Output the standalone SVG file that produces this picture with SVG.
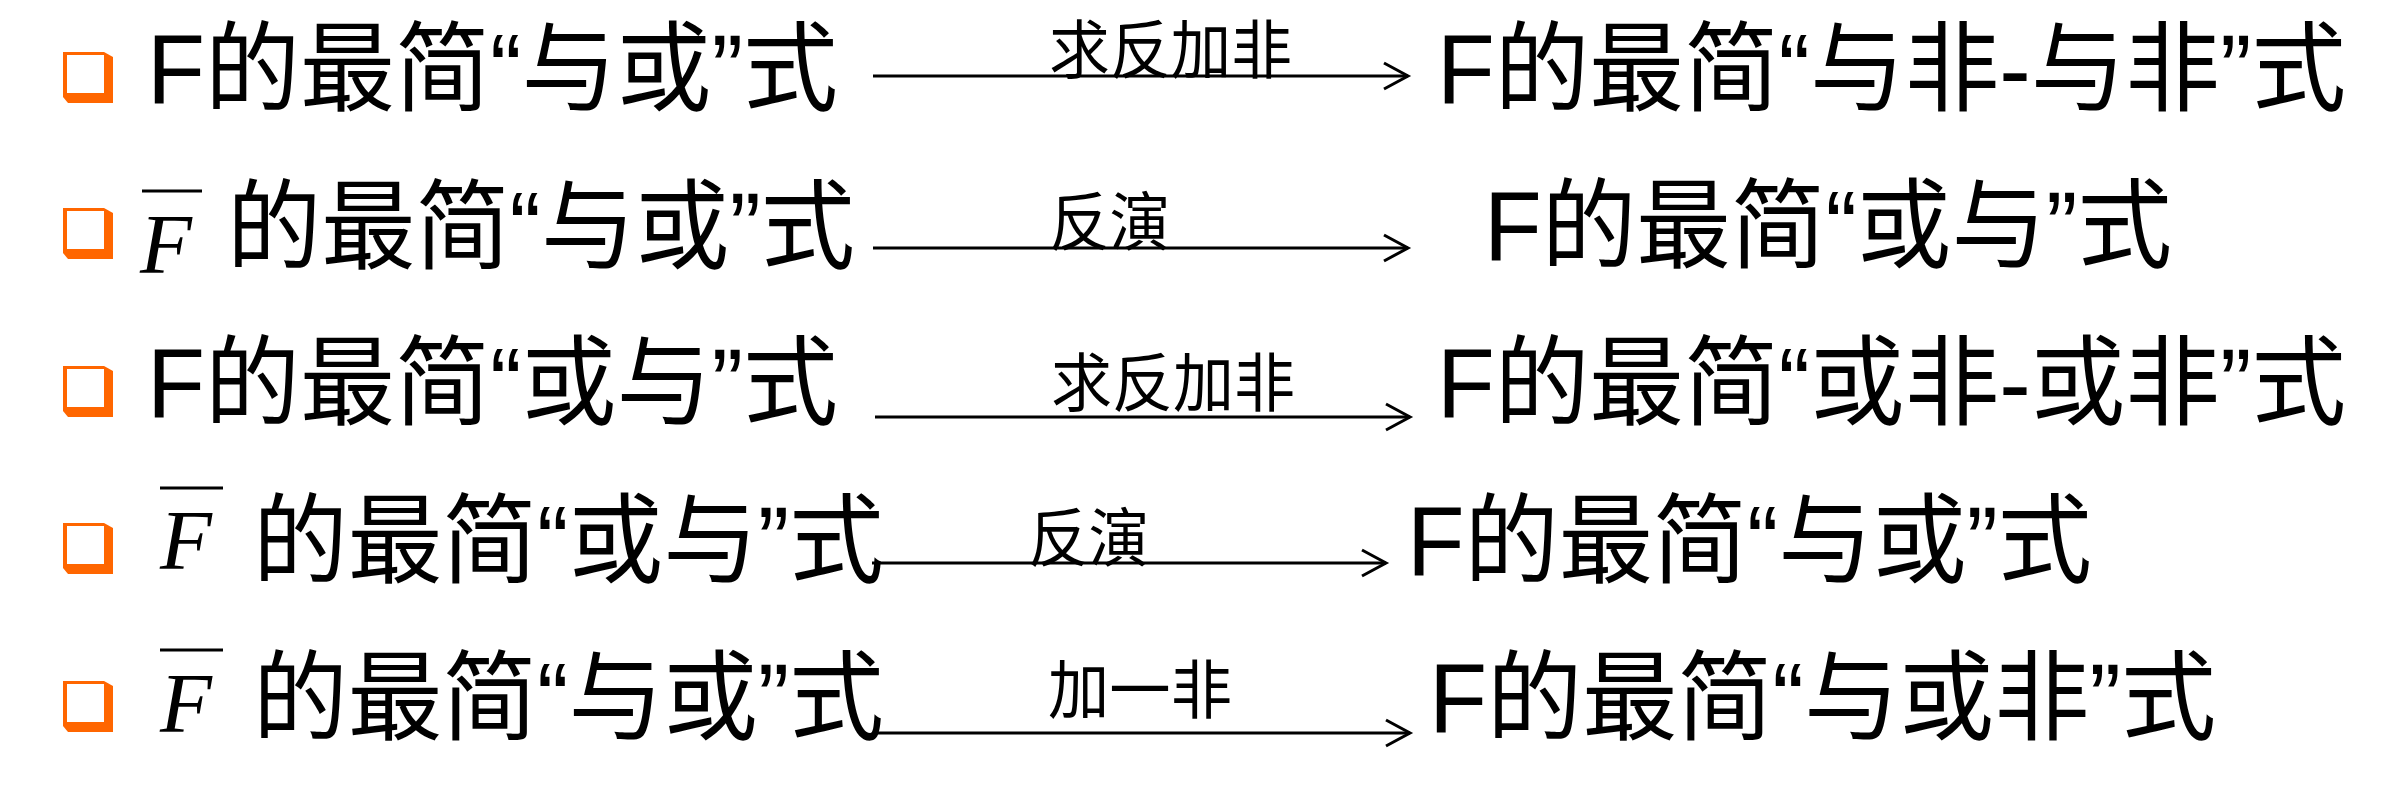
<svg xmlns="http://www.w3.org/2000/svg" width="2403" height="787" viewBox="0 0 2403 787">
<style>
.t{font-family:"Liberation Sans","Noto Sans CJK SC",sans-serif;font-size:98px;fill:#000}
.lb{font-family:"Noto Sans CJK SC",sans-serif;font-size:64px;fill:#000}
.fi{font-family:"Liberation Serif",serif;font-style:italic;font-size:85px;fill:#000}
.ob{stroke:#000;stroke-width:3}
.ar{stroke:#000;stroke-width:3;fill:none}
</style>
<defs>
<marker id="arr" markerUnits="userSpaceOnUse" markerWidth="32" markerHeight="32" refX="27" refY="15" orient="auto" overflow="visible">
<path d="M3,2 L27,15 L3,28" fill="none" stroke="#000" stroke-width="3"/>
</marker>
<g id="bul">
<polygon points="0,0 41,0 50,5 50,51 5,51 0,45" fill="#FF6600"/>
<rect x="4" y="3" width="37" height="38" fill="#fff"/>
</g>
</defs>
<rect width="2403" height="787" fill="#fff"/>

<g id="bullets">
<use href="#bul" x="63" y="52"/>
<use href="#bul" x="63" y="208"/>
<use href="#bul" x="63" y="366"/>
<use href="#bul" x="63" y="523"/>
<use href="#bul" x="63" y="681"/>
</g>

<g id="row1-left"><text class="t" x="147" y="103" textLength="691" lengthAdjust="spacingAndGlyphs">F的最简“与或”式</text></g>
<g id="row1-right"><text class="t" x="1437" y="103" textLength="909" lengthAdjust="spacingAndGlyphs">F的最简“与非-与非”式</text></g>

<g id="row2-left">
<line class="ob" x1="142" y1="191" x2="202" y2="191"/>
<text class="fi" x="140" y="273">F</text>
<text class="t" x="227" y="261" textLength="628" lengthAdjust="spacingAndGlyphs">的最简“与或”式</text>
</g>
<g id="row2-right"><text class="t" x="1484" y="260" textLength="688" lengthAdjust="spacingAndGlyphs">F的最简“或与”式</text></g>

<g id="row3-left"><text class="t" x="147" y="417" textLength="691" lengthAdjust="spacingAndGlyphs">F的最简“或与”式</text></g>
<g id="row3-right"><text class="t" x="1437" y="417" textLength="909" lengthAdjust="spacingAndGlyphs">F的最简“或非-或非”式</text></g>

<g id="row4-left">
<line class="ob" x1="160" y1="488" x2="223" y2="488"/>
<text class="fi" x="160" y="569">F</text>
<text class="t" x="253" y="575" textLength="631" lengthAdjust="spacingAndGlyphs">的最简“或与”式</text>
</g>
<g id="row4-right"><text class="t" x="1407" y="575" textLength="685" lengthAdjust="spacingAndGlyphs">F的最简“与或”式</text></g>

<g id="row5-left">
<line class="ob" x1="160" y1="650" x2="223" y2="650"/>
<text class="fi" x="160" y="732">F</text>
<text class="t" x="253" y="732" textLength="631" lengthAdjust="spacingAndGlyphs">的最简“与或”式</text>
</g>
<g id="row5-right"><text class="t" x="1429" y="732" textLength="787" lengthAdjust="spacingAndGlyphs">F的最简“与或非”式</text></g>

<g id="connectors">
<line class="ar" x1="873" y1="76" x2="1408" y2="76" marker-end="url(#arr)"/>
<line class="ar" x1="873" y1="248" x2="1408" y2="248" marker-end="url(#arr)"/>
<line class="ar" x1="875" y1="417" x2="1410" y2="417" marker-end="url(#arr)"/>
<line class="ar" x1="872" y1="563" x2="1386" y2="563" marker-end="url(#arr)"/>
<line class="ar" x1="874" y1="733" x2="1410" y2="733" marker-end="url(#arr)"/>
<text class="lb" x="1049" y="73" textLength="243" lengthAdjust="spacingAndGlyphs">求反加非</text>
<text class="lb" x="1049" y="245" textLength="121" lengthAdjust="spacingAndGlyphs">反演</text>
<text class="lb" x="1051" y="406" textLength="244" lengthAdjust="spacingAndGlyphs">求反加非</text>
<text class="lb" x="1028" y="561" textLength="121" lengthAdjust="spacingAndGlyphs">反演</text>
<text class="lb" x="1048" y="713" textLength="184" lengthAdjust="spacingAndGlyphs">加一非</text>
</g>
</svg>
